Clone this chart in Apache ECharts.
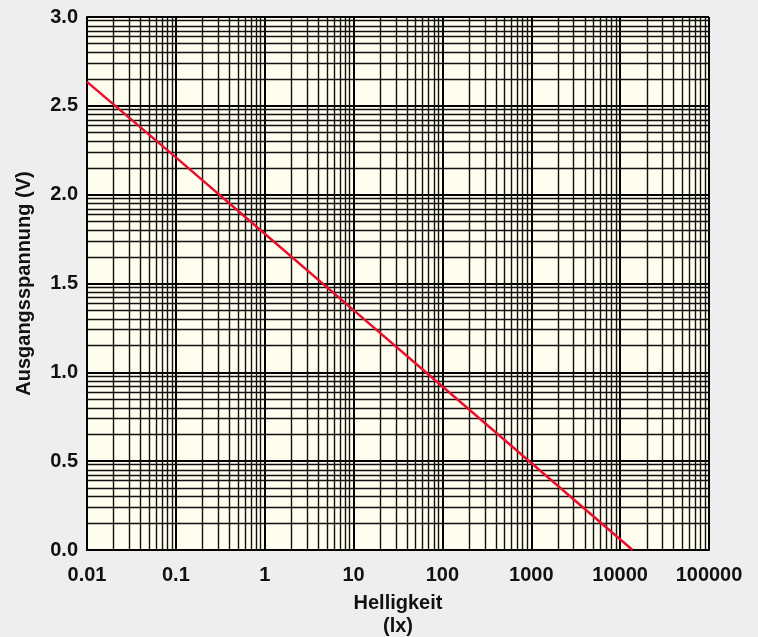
<!DOCTYPE html>
<html><head><meta charset="utf-8">
<script src="https://cdn.jsdelivr.net/npm/echarts@6/dist/echarts.min.js"></script>
<style>html,body{margin:0;padding:0;background:#eeeeee;}#c{width:758px;height:637px;}</style>
</head><body><div id="c"></div>
<script>
// Data
var lux = [0.01, 0.1, 1, 10, 100, 1000, 13800];
var volts = [2.635, 2.21, 1.78, 1.35, 0.92, 0.49, 0.0];
var xTickLabels = ['0.01', '0.1', '1', '10', '100', '1000', '10000', '100000'];
var yTickLabels = ['0.0', '0.5', '1.0', '1.5', '2.0', '2.5', '3.0'];
var decades = [0.01, 0.1, 1, 10, 100, 1000, 10000];
var minorFactors = [2, 3, 4, 5, 6, 7, 8, 9];
var yBands = [0, 0.5, 1.0, 1.5, 2.0, 2.5];

var minorLines = [];
decades.forEach(function (d) {
  minorFactors.forEach(function (k) { minorLines.push({ xAxis: +(d * k).toPrecision(6) }); });
});
yBands.forEach(function (b) {
  minorFactors.forEach(function (k) { minorLines.push({ yAxis: b + 0.5 * Math.log10(k) }); });
});

var chart = echarts.init(document.getElementById('c'));
var font = '"Liberation Sans", Arial, sans-serif';
chart.setOption({
  backgroundColor: '#eeeeee',
  animation: false,
  grid: { left: 87, top: 17, right: 49, bottom: 87, show: true, backgroundColor: '#fffdee', borderWidth: 0, outerBoundsMode: 'none', containLabel: false },
  xAxis: {
    type: 'log', logBase: 10, min: 0.01, max: 100000, splitNumber: 7,
    name: 'Helligkeit\n(lx)', nameLocation: 'middle', nameGap: 42,
    nameTextStyle: { fontFamily: font, fontWeight: 'bold', fontSize: 20, color: '#111', lineHeight: 23 },
    axisLine: { show: true, lineStyle: { color: '#000', width: 2 } },
    axisTick: { show: false },
    axisLabel: {
      fontFamily: font, fontWeight: 'bold', fontSize: 20, color: '#111', margin: 15,
      formatter: function (v) {
        var i = Math.round(Math.log10(v)) + 2;
        return xTickLabels[i] !== undefined ? xTickLabels[i] : '';
      }
    },
    splitLine: { show: true, lineStyle: { color: '#000', width: 2 } }
  },
  yAxis: {
    type: 'value', min: 0, max: 3, interval: 0.5,
    name: 'Ausgangsspannung (V)', nameLocation: 'middle', nameGap: 53,
    nameTextStyle: { fontFamily: font, fontWeight: 'bold', fontSize: 20, color: '#111' },
    axisLine: { show: true, lineStyle: { color: '#000', width: 2 } },
    axisTick: { show: false },
    axisLabel: {
      fontFamily: font, fontWeight: 'bold', fontSize: 20, color: '#111', margin: 9,
      formatter: function (v) { return yTickLabels[Math.round(v * 2)]; }
    },
    splitLine: { show: true, lineStyle: { color: '#000', width: 2 } }
  },
  series: [
    {
      type: 'line', data: [], z: 1, silent: true,
      markLine: {
        silent: true, symbol: ['none', 'none'], label: { show: false },
        lineStyle: { color: '#111', width: 1.4, type: 'solid' },
        emphasis: { disabled: true },
        data: minorLines
      }
    },
    {
      type: 'line', z: 5, symbol: 'none',
      data: lux.map(function (x, i) { return [x, volts[i]]; }),
      lineStyle: { color: '#e8102c', width: 2.5 }
    }
  ]
});
</script></body></html>
